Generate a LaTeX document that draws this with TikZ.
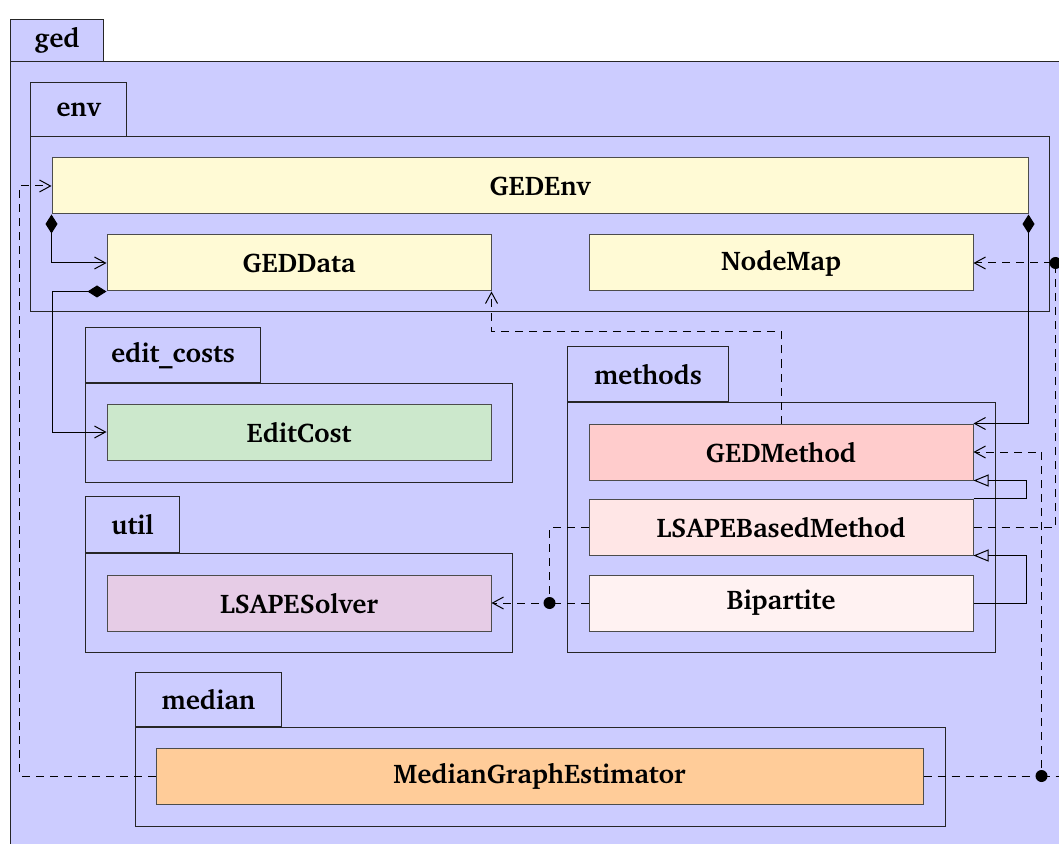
\documentclass[tikz,border=0pt]{standalone}
\usepackage[T1]{fontenc}
\renewcommand{\rmdefault}{bch}
\usetikzlibrary{arrows.meta,calc}

\definecolor{pkgblue}{HTML}{CCCCFF}
\definecolor{envyellow}{HTML}{FFFAD5}
\definecolor{costgreen}{HTML}{CCE8CC}
\definecolor{utilpurple}{HTML}{E6CCE6}
\definecolor{methodred}{HTML}{FFCCCC}
\definecolor{lsapepink}{HTML}{FFE6E6}
\definecolor{bippink}{HTML}{FFF2F2}
\definecolor{medianorange}{HTML}{FFCC99}

\tikzset{
  pkg/.style={draw=black!85, fill=pkgblue, line width=0.5pt},
  pkgtab/.style={pkg, anchor=south west, inner sep=0pt, font=\fontsize{13.5}{16}\selectfont\bfseries},
  cls/.style={draw=black!70, line width=0.5pt, minimum width=192pt, minimum height=28pt, inner sep=0pt, font=\fontsize{13.5}{16}\selectfont\bfseries},
  dep/.style={dash pattern=on 4pt off 3pt, line width=0.5pt, -{Straight Barb[length=5.5pt,width=6pt]}},
  plain/.style={dash pattern=on 4pt off 3pt, line width=0.5pt},
  compo/.style={line width=0.5pt, {Diamond[length=9.5pt,width=6pt]}-{Straight Barb[length=5.5pt,width=6pt]}},
  inherit/.style={line width=0.5pt, -{Triangle[open,length=7.5pt,width=6pt]}},
}

\begin{document}
\begin{tikzpicture}[x=0.5pt,y=-0.5pt]
\clip (0,0) rectangle (1059,844);
\fill[white] (0,0) rectangle (1059,844);

% Paket ged
\draw[pkg] (10,62) rectangle (1090,880);
\node[pkgtab, minimum width=46.5pt, minimum height=21pt] (gedtab) at (10,62) {ged};

% Paket env
\draw[pkg] (30,137) rectangle (1049,312);
\node[pkgtab, minimum width=48pt, minimum height=27pt] (envtab) at (30,137) {env};
\node[cls, fill=envyellow, minimum width=488pt] (gedenv) at (540,186) {GEDEnv};
\node[cls, fill=envyellow] (geddata) at (299,263) {GEDData};
\node[cls, fill=envyellow] (nodemap) at (781,263) {NodeMap};

% Paket edit_costs
\draw[pkg] (85,383) rectangle (512,482);
\node[pkgtab, minimum width=87.5pt, minimum height=27.5pt] (coststab) at (85,383) {edit\_costs};
\node[cls, fill=costgreen] (editcost) at (299,432) {EditCost};

% Paket util
\draw[pkg] (85,553) rectangle (512,652);
\node[pkgtab, minimum width=47pt, minimum height=28pt] (utiltab) at (85,553) {util};
\node[cls, fill=utilpurple] (lsapesolver) at (299,603) {LSAPESolver};

% Paket methods
\draw[pkg] (567,402) rectangle (995,652);
\node[pkgtab, minimum width=80.5pt, minimum height=27.5pt] (methodstab) at (567,402) {methods};
\node[cls, fill=methodred] (gedmethod) at (781,452) {GEDMethod};
\node[cls, fill=lsapepink] (lsape) at (781,527) {LSAPEBasedMethod};
\node[cls, fill=bippink] (bipartite) at (781,603) {Bipartite};

% Paket median
\draw[pkg] (135,727) rectangle (945,826);
\node[pkgtab, minimum width=73pt, minimum height=27pt] (mediantab) at (135,727) {median};
\node[cls, fill=medianorange, minimum width=383.5pt] (mge) at (539.5,776) {MedianGraphEstimator};

% Kompozycje
\draw[compo] (gedenv.south west) |- (geddata.west);
\draw[compo] (geddata.south west) -- ++(-54,0) |- (editcost.west);
\draw[compo] (gedenv.south east) |- (gedmethod.north east);

% Dziedziczenie
\draw[inherit] (lsape.north east) -- ++(53,0) |- (gedmethod.south east);
\draw[inherit] (bipartite.east) -- ++(53,0) |- (lsape.south east);

% Zaleznosci
\draw[dep] (gedmethod.north) -- ++(0,-92) -| (geddata.south east);
\coordinate (nmdot) at ($(nodemap.east)+(82,0)$);
\draw[dep] (lsape.east) -| (nmdot) -- (nodemap.east);
\fill (nmdot) circle (3pt);
\coordinate (bpdot) at ($(bipartite.west)+(-39,0)$);
\draw[plain] (bipartite.west) -- (bpdot);
\draw[dep] (lsape.west) -| (bpdot) -- (lsapesolver.east);
\fill (bpdot) circle (3pt);
\coordinate (mgedot) at ($(mge.east)+(118,0)$);
\draw[dep] (mge.east) -- (mgedot) |- (gedmethod.east);
\draw[plain] (mgedot) -- ++(40,0);
\fill (mgedot) circle (3pt);
\draw[dep] (mge.west) -- ++(-136,0) |- (gedenv.west);
\end{tikzpicture}
\end{document}
